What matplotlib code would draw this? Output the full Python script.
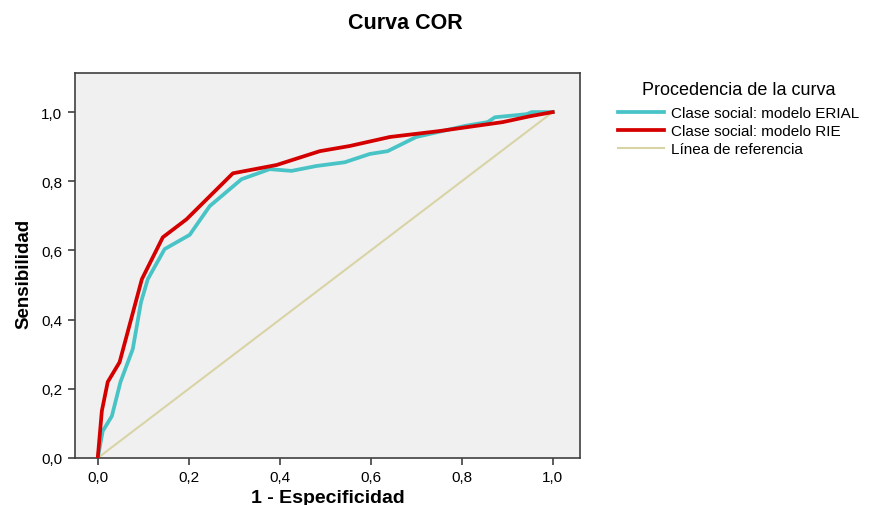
import numpy as np
import matplotlib
matplotlib.use("Agg")
import matplotlib.pyplot as plt
from matplotlib.ticker import FuncFormatter

plt.rcParams['font.family'] = ['Liberation Sans', 'DejaVu Sans']

# curva ERIAL (1 - especificidad, sensibilidad)
erial_x = [0.0, 0.011, 0.031, 0.05, 0.077, 0.095, 0.11, 0.147, 0.202, 0.246, 0.316, 0.378, 0.426,
           0.48, 0.543, 0.598, 0.637, 0.70, 0.807, 0.857, 0.873, 0.943, 0.954, 1.0]
erial_y = [0.0, 0.078, 0.121, 0.22, 0.315, 0.45, 0.517, 0.604, 0.645, 0.728, 0.806, 0.835, 0.83,
           0.844, 0.855, 0.879, 0.887, 0.928, 0.96, 0.971, 0.985, 0.994, 1.0, 1.0]

# curva RIE
rie_x = [0.0, 0.009, 0.022, 0.048, 0.097, 0.143, 0.195, 0.297, 0.393, 0.488, 0.554, 0.642, 0.75,
         0.89, 0.95, 1.0]
rie_y = [0.0, 0.136, 0.22, 0.277, 0.517, 0.638, 0.69, 0.823, 0.847, 0.887, 0.902, 0.928, 0.945,
         0.971, 0.988, 1.0]

ref = [0.0, 1.0]

fig = plt.figure(figsize=(8.73, 5.06), dpi=100)
ax = fig.add_axes([75/873, 47/506, 505/873, 385/506])
ax.set_facecolor('#F0F0F0')

ax.plot(ref, ref, color='#D9D4A6', lw=1.5, label='Línea de referencia', zorder=2)
ax.plot(erial_x, erial_y, color='#48C3C6', lw=2.7, label='Clase social: modelo ERIAL', zorder=3)
ax.plot(rie_x, rie_y, color='#D40000', lw=2.7, label='Clase social: modelo RIE', zorder=4)

ax.set_xlim(-0.05, 1.06)
ax.set_ylim(0, 1.113)
ticks = [0, 0.2, 0.4, 0.6, 0.8, 1.0]
ax.set_xticks(ticks)
ax.set_yticks(ticks)
fmt = FuncFormatter(lambda v, p: '{:.1f}'.format(v).replace('.', ','))
ax.xaxis.set_major_formatter(fmt)
ax.yaxis.set_major_formatter(fmt)
ax.tick_params(direction='out', length=5, width=1.2, color='#404040', labelsize=11, pad=4)
for s in ax.spines.values():
    s.set_color('#404040')
    s.set_linewidth(1.2)

ax.set_xlabel('1 - Especificidad', fontsize=14, fontweight='bold', labelpad=3)
ax.set_ylabel('Sensibilidad', fontsize=13.5, fontweight='bold', labelpad=5)
ax.yaxis.set_label_coords(-0.085, 0.48)
fig.suptitle('Curva COR', x=405/873, y=0.975, fontsize=15.5, fontweight='bold')

h, l = ax.get_legend_handles_labels()
order = [1, 2, 0]
leg = fig.legend([h[i] for i in order], [l[i] for i in order],
                 title='Procedencia de la curva', loc='upper left',
                 bbox_to_anchor=(612/873, 1 - 76/506), frameon=False,
                 fontsize=11, title_fontsize=13, handlelength=3.0,
                 labelspacing=0.25, handletextpad=0.45, borderaxespad=0)
leg._legend_box.sep = 6

fig.savefig('out.png', dpi=100)
